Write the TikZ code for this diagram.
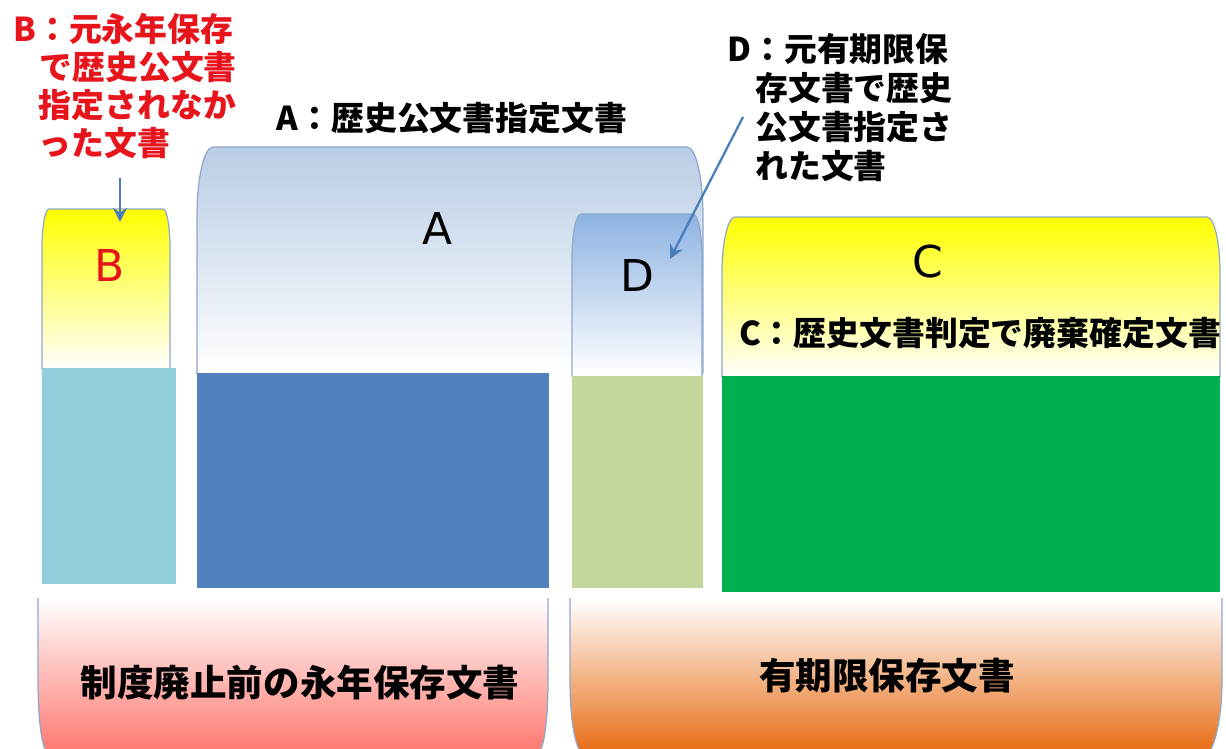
\documentclass[tikz,border=0pt]{standalone}
\usepackage{fontspec}
\newfontfamily\jp{Noto Sans CJK JP}
\newfontfamily\lat{DejaVu Sans}
\usetikzlibrary{arrows.meta}
\definecolor{tabedge}{HTML}{8EA8CC}
\definecolor{ablue}{HTML}{B9CDE5}
\definecolor{ablueM}{HTML}{D5E1F0}
\definecolor{dblue}{HTML}{8DB3E2}
\definecolor{dblueM}{HTML}{BCD0EA}
\definecolor{yelM}{HTML}{FFFFC4}
\definecolor{rectB}{HTML}{92CDDC}
\definecolor{rectA}{HTML}{4F81BD}
\definecolor{rectD}{HTML}{C3D69B}
\definecolor{rectC}{HTML}{00B050}
\definecolor{salmon}{HTML}{FF7B73}
\definecolor{peach}{HTML}{FCD8C4}
\definecolor{orng}{HTML}{E8701A}
\definecolor{cream}{HTML}{FBE6BC}
\definecolor{arrowblue}{HTML}{4A7EBB}
\definecolor{labred}{HTML}{E8141C}
\tikzset{
  edgeline/.style={draw=tabedge, line width=0.7pt},
  labtext/.style={font=\jp\bfseries\fontsize{18.7}{21.7}\selectfont, inner sep=0},
  bottext/.style={font=\jp\bfseries\fontsize{20.8}{24}\selectfont, inner sep=0},
  bigletter/.style={font=\lat\fontsize{25}{25}\selectfont, inner sep=0},
  callout/.style={draw=arrowblue, line width=1.3pt, -{Stealth[length=8pt,width=8pt]}},
}
\begin{document}
\begin{tikzpicture}[x=0.02cm,y=-0.02cm]
\path[use as bounding box, fill=white] (0,0) rectangle (1226,749);
% ---- top tabs ----
% A tab
\path[top color=ablue, middle color=ablueM, bottom color=white]
  (197,374) -- (197,217) .. controls (197,178) and (204,147) .. (213,147) -- (687,147) .. controls (696,147) and (703,178) .. (703,217) -- (703,374) -- cycle;
\draw[edgeline] (197,374) -- (197,217) .. controls (197,178) and (204,147) .. (213,147) -- (687,147) .. controls (696,147) and (703,178) .. (703,217) -- (703,374);
% D tab
\path[top color=dblue, middle color=dblueM, bottom color=white]
  (572,377) -- (572,259) .. controls (572,234) and (576,214) .. (581,214) -- (693,214) .. controls (698,214) and (702,234) .. (702,259) -- (702,377) -- cycle;
\draw[edgeline] (572,377) -- (572,259) .. controls (572,234) and (576,214) .. (581,214) -- (693,214) .. controls (698,214) and (702,234) .. (702,259) -- (702,377);
% B tab
\path[top color=yellow, middle color=yelM, bottom color=white]
  (42,370) -- (42,249) .. controls (42,227) and (45,209) .. (49,209) -- (163,209) .. controls (167,209) and (170,227) .. (170,249) -- (170,370) -- cycle;
\draw[edgeline] (42,370) -- (42,249) .. controls (42,227) and (45,209) .. (49,209) -- (163,209) .. controls (167,209) and (170,227) .. (170,249) -- (170,370);
% C tab
\path[top color=yellow, middle color=yelM, bottom color=white]
  (722,378) -- (722,272) .. controls (722,242) and (728,217) .. (735,217) -- (1207,217) .. controls (1214,217) and (1220,242) .. (1220,272) -- (1220,378) -- cycle;
\draw[edgeline] (722,378) -- (722,272) .. controls (722,242) and (728,217) .. (735,217) -- (1207,217) .. controls (1214,217) and (1220,242) .. (1220,272) -- (1220,378);
% ---- rectangles ----
\fill[rectB] (42,368) rectangle (176,584);
\fill[rectA] (197,373) rectangle (549,588);
\fill[rectD] (572,376) rectangle (703,588);
\fill[rectC] (722,376) rectangle (1220,592);
% ---- bottom shapes ----
\path[top color=white, middle color=peach, bottom color=salmon]
  (38,598) -- (38,680) .. controls (38,715) and (41,740) .. (45,749) -- (541,749) .. controls (545,740) and (548,715) .. (548,680) -- (548,598) -- cycle;
\draw[edgeline] (38,598) -- (38,680) .. controls (38,715) and (41,740) .. (45,749);
\draw[edgeline] (548,598) -- (548,680) .. controls (548,715) and (545,740) .. (541,749);
\path[top color=white, middle color=cream, bottom color=orng]
  (570,598) -- (570,680) .. controls (570,715) and (574,740) .. (579,749) -- (1211,749) .. controls (1216,740) and (1222,715) .. (1222,680) -- (1222,598) -- cycle;
\draw[edgeline] (570,598) -- (570,680) .. controls (570,715) and (574,740) .. (579,749);
\draw[edgeline] (1222,598) -- (1222,680) .. controls (1222,715) and (1216,740) .. (1211,749);
% ---- big letters ----
\node[bigletter] (letA) at (438,228) {A};
\node[bigletter, text=labred] (letB) at (110,265) {B};
\node[bigletter] (letD) at (637,275) {D};
\node[bigletter] (letC) at (928,262) {C};
% ---- labels ----
\node[labtext, text=labred, align=left, anchor=north west] (labB) at (13,13)
  {B：元永年保存\\\hspace*{0.8em}で歴史公文書\\\hspace*{0.78em}指定されなか\\\hspace*{0.78em}った文書};
\node[labtext] (labA) at (452,118) {A：歴史公文書指定文書};
\node[labtext, align=left, anchor=north west, font=\jp\bfseries\fontsize{18.7}{22.2}\selectfont] (labD) at (727,33)
  {D：元有期限保\\\hspace*{0.85em}存文書で歴史\\\hspace*{0.85em}公文書指定さ\\\hspace*{0.85em}れた文書};
\node[labtext] (labC) at (980,333) {C：歴史文書判定で廃棄確定文書};
\node[bottext] (labL) at (300,683) {制度廃止前の永年保存文書};
\node[bottext] (labR) at (887,676) {有期限保存文書};
% ---- arrows ----
\coordinate (bArrS) at (120,178);
\coordinate (bArrE) at (120,222);
\coordinate (dArrS) at (743,117);
\coordinate (dArrE) at (670,259);
\draw[callout] (bArrS) -- (bArrE);
\draw[callout] (dArrS) -- (dArrE);
\end{tikzpicture}
\end{document}
